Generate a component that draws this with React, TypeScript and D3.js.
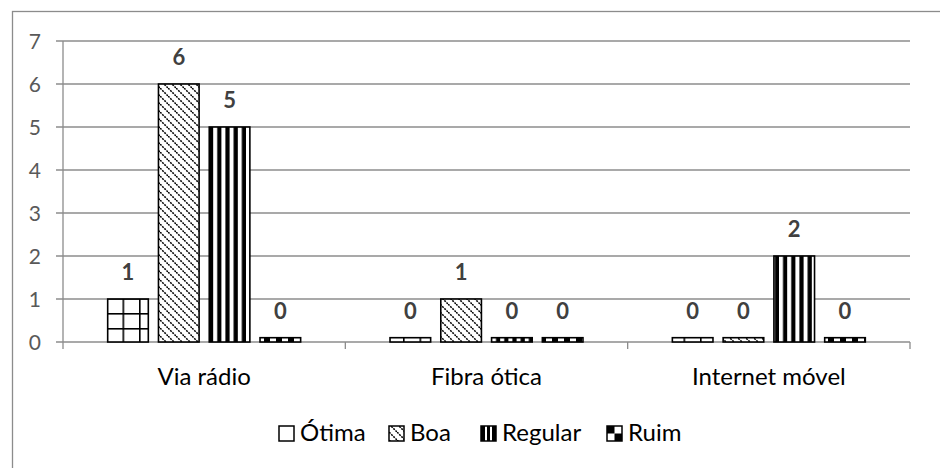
import { useEffect, useRef } from "react";
import * as d3 from "d3";

const categories = ["Via rádio", "Fibra ótica", "Internet móvel"];
const seriesNames = ["Ótima", "Boa", "Regular", "Ruim"];
const values: number[][] = [
  // Ótima, Boa, Regular, Ruim
  [1, 6, 5, 0],
  [0, 1, 0, 0],
  [0, 0, 2, 0],
];
const yTicks = [0, 1, 2, 3, 4, 5, 6, 7];
const patternIds = ["pat-otima", "pat-boa", "pat-regular", "pat-ruim"];

const W = 940;
const H = 468;
const FONT = "Lato, 'Open Sans', sans-serif";

export default function App() {
  const ref = useRef<SVGSVGElement>(null);

  useEffect(() => {
    if (!ref.current) return;
    const svg = d3.select(ref.current);
    svg.selectAll("*").remove();

    const left = 63;
    const right = 910;
    const top = 41;
    const bottom = 342;

    const defs = svg.append("defs");

    // Ótima: large grid
    const p0 = defs
      .append("pattern")
      .attr("id", patternIds[0])
      .attr("patternUnits", "userSpaceOnUse")
      .attr("width", 16.5)
      .attr("height", 15)
      .attr("x", 7)
      .attr("y", 13);
    p0.append("rect").attr("width", 16.5).attr("height", 15).attr("fill", "#fff");
    p0.append("rect").attr("x", 0).attr("y", 0).attr("width", 1.6).attr("height", 15).attr("fill", "#000");
    p0.append("rect").attr("x", 0).attr("y", 0).attr("width", 16.5).attr("height", 1.6).attr("fill", "#000");

    // Boa: dashed downward diagonal
    const p1 = defs
      .append("pattern")
      .attr("id", patternIds[1])
      .attr("patternUnits", "userSpaceOnUse")
      .attr("width", 8)
      .attr("height", 8);
    p1.append("rect").attr("width", 8).attr("height", 8).attr("fill", "#fff");
    p1.append("path")
      .attr("d", "M-2,-2 L10,10 M-6,2 L2,10 M6,-2 L10,2")
      .attr("stroke", "#000")
      .attr("stroke-width", 1.5)
      .attr("stroke-dasharray", "2,1");

    // Regular: wide vertical stripes
    const p2 = defs
      .append("pattern")
      .attr("id", patternIds[2])
      .attr("patternUnits", "userSpaceOnUse")
      .attr("width", 8.2)
      .attr("height", 8);
    p2.append("rect").attr("width", 8.2).attr("height", 8).attr("fill", "#fff");
    p2.append("rect").attr("x", 4).attr("width", 4.2).attr("height", 8).attr("fill", "#000");

    // Ruim: large checker board
    const p3 = defs
      .append("pattern")
      .attr("id", patternIds[3])
      .attr("patternUnits", "userSpaceOnUse")
      .attr("width", 12)
      .attr("height", 12);
    p3.append("rect").attr("width", 12).attr("height", 12).attr("fill", "#fff");
    p3.append("rect").attr("width", 6).attr("height", 6).attr("fill", "#000");
    p3.append("rect").attr("x", 6).attr("y", 6).attr("width", 6).attr("height", 6).attr("fill", "#000");

    // outer chart border (right/bottom run past the picture)
    svg
      .append("rect")
      .attr("x", 12.5)
      .attr("y", 11.5)
      .attr("width", 1000)
      .attr("height", 600)
      .attr("fill", "none")
      .attr("stroke", "#8c8c8c")
      .attr("stroke-width", 1.3);

    const y = d3.scaleLinear().domain([0, 7]).range([bottom, top]);
    const x0 = d3.scaleBand<string>().domain(categories).range([left, right]);
    const x1 = d3
      .scaleBand<string>()
      .domain(seriesNames)
      .range([0, x0.bandwidth()])
      .paddingInner(0.2)
      .paddingOuter(0.88);

    // gridlines + y ticks
    yTicks.forEach((t) => {
      svg
        .append("line")
        .attr("x1", left - 7)
        .attr("x2", right)
        .attr("y1", y(t))
        .attr("y2", y(t))
        .attr("stroke", "#8c8c8c")
        .attr("stroke-width", 1.3);
      svg
        .append("text")
        .attr("x", 41)
        .attr("y", y(t))
        .attr("dy", "0.36em")
        .attr("text-anchor", "end")
        .attr("font-family", FONT)
        .attr("font-size", 21)
        .attr("fill", "#595959")
        .text(t);
    });

    // y axis line
    svg
      .append("line")
      .attr("x1", left)
      .attr("x2", left)
      .attr("y1", top)
      .attr("y2", bottom)
      .attr("stroke", "#8c8c8c")
      .attr("stroke-width", 1.3);

    // category ticks
    const catEdges = categories.map((c) => x0(c)!).concat([right]);
    catEdges.forEach((e) => {
      svg
        .append("line")
        .attr("x1", e)
        .attr("x2", e)
        .attr("y1", bottom)
        .attr("y2", bottom + 7)
        .attr("stroke", "#8c8c8c")
        .attr("stroke-width", 1.3);
    });

    // bars
    const stub = 0.1;
    categories.forEach((c, ci) => {
      seriesNames.forEach((s, si) => {
        const v = values[ci][si];
        const bx = x0(c)! + x1(s)!;
        const shown = Math.max(v, stub);
        svg
          .append("rect")
          .attr("x", bx)
          .attr("y", y(shown))
          .attr("width", x1.bandwidth())
          .attr("height", y(0) - y(shown))
          .attr("fill", `url(#${patternIds[si]})`)
          .attr("stroke", "#000")
          .attr("stroke-width", 1.6);
        svg
          .append("text")
          .attr("x", bx + x1.bandwidth() / 2)
          .attr("y", y(shown) - 19)
          .attr("text-anchor", "middle")
          .attr("font-family", FONT)
          .attr("font-weight", "bold")
          .attr("font-size", 22)
          .attr("fill", "#404040")
          .text(v);
      });
      svg
        .append("text")
        .attr("x", x0(c)! + x0.bandwidth() / 2)
        .attr("y", 385)
        .attr("text-anchor", "middle")
        .attr("font-family", FONT)
        .attr("font-size", 24)
        .attr("fill", "#000")
        .text(c);
    });

    // legend
    const legendX = [279, 389, 481, 607];
    const ls = 15;
    const ly = 426;
    seriesNames.forEach((s, si) => {
      const g = svg.append("g").attr("transform", `translate(${legendX[si]},0)`);
      if (si === 0) {
        g.append("rect").attr("y", ly).attr("width", ls).attr("height", ls).attr("fill", "#fff");
      } else if (si === 1) {
        g.append("rect").attr("y", ly).attr("width", ls).attr("height", ls).attr("fill", `url(#${patternIds[1]})`);
      } else if (si === 2) {
        g.append("rect").attr("y", ly).attr("width", ls).attr("height", ls).attr("fill", "#000");
        g.append("rect").attr("x", 4).attr("y", ly).attr("width", 2).attr("height", ls).attr("fill", "#fff");
        g.append("rect").attr("x", 9).attr("y", ly).attr("width", 2).attr("height", ls).attr("fill", "#fff");
      } else {
        g.append("rect").attr("y", ly).attr("width", ls).attr("height", ls).attr("fill", "#fff");
        g.append("rect").attr("y", ly).attr("width", ls / 2).attr("height", ls / 2).attr("fill", "#000");
        g.append("rect").attr("x", ls / 2).attr("y", ly + ls / 2).attr("width", ls / 2).attr("height", ls / 2).attr("fill", "#000");
      }
      g.append("rect")
        .attr("x", 0)
        .attr("y", ly)
        .attr("width", ls)
        .attr("height", ls)
        .attr("fill", "none")
        .attr("stroke", "#000")
        .attr("stroke-width", 1.5);
      g.append("text")
        .attr("x", 21)
        .attr("y", 441)
        .attr("font-family", FONT)
        .attr("font-size", 24)
        .attr("fill", "#000")
        .text(s);
    });
  }, []);

  return (
    <svg
      ref={ref}
      width={W}
      height={H}
      style={{ position: "absolute", left: 0, top: 0, background: "#fff" }}
    />
  );
}
